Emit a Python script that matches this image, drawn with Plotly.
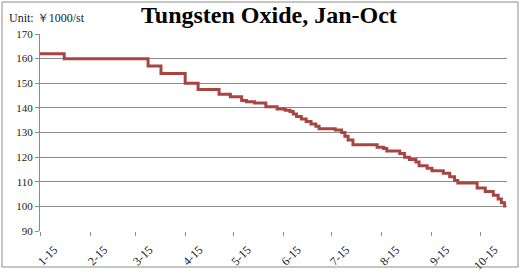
import plotly.graph_objects as go

# change points of the stepped price series (2015), value in 1000 CNY/st
dates = ["2015-01-15", "2015-01-30", "2015-03-23", "2015-03-31", "2015-04-15", "2015-04-23",
         "2015-05-06", "2015-05-13", "2015-05-20", "2015-05-23", "2015-05-28", "2015-06-04",
         "2015-06-11", "2015-06-16", "2015-06-19", "2015-06-21", "2015-06-23", "2015-06-26",
         "2015-06-29", "2015-07-02", "2015-07-05", "2015-07-07", "2015-07-17", "2015-07-21",
         "2015-07-23", "2015-07-25", "2015-07-28", "2015-08-12", "2015-08-16", "2015-08-18",
         "2015-08-26", "2015-08-29", "2015-09-01", "2015-09-05", "2015-09-07", "2015-09-12",
         "2015-09-15", "2015-09-22", "2015-09-26", "2015-09-29", "2015-10-01", "2015-10-13",
         "2015-10-18", "2015-10-23", "2015-10-26", "2015-10-28", "2015-10-30"]
prices = [162, 160, 157, 154, 150, 147.5,
          145.5, 144.5, 143, 142.5, 142, 140.5,
          139.5, 139, 138.5, 137.5, 136.5, 135.5,
          134.5, 133.5, 132.5, 131.5, 131, 130,
          128.5, 127, 125, 124, 123.5, 122.5,
          121.5, 120, 119, 118, 116.5, 115.5,
          114.5, 113.5, 112, 110.5, 109.5, 107.5,
          106, 104.5, 103, 101.5, 99.5]

tick_dates = ["2015-01-15", "2015-02-15", "2015-03-15", "2015-04-15", "2015-05-15",
              "2015-06-15", "2015-07-15", "2015-08-15", "2015-09-15", "2015-10-15"]
tick_labels = ["1-15", "2-15", "3-15", "4-15", "5-15", "6-15", "7-15", "8-15", "9-15", "10-15"]
y_ticks = [90, 100, 110, 120, 130, 140, 150, 160, 170]

title_text = "Tungsten Oxide, Jan-Oct"
unit_text = "Unit: ￥1000/st"

SERIF = "Liberation Serif, Times New Roman, serif"
GRID = "#8c8c8c"

fig = go.Figure()
fig.add_trace(go.Scatter(
    x=dates, y=prices, mode="lines", line=dict(color="#a84442", width=3, shape="hv"),
    hoverinfo="skip", showlegend=False))

W, H = 523, 276
L, R, T, B = 40, 16, 34, 45
pw, ph = W - L - R, H - T - B

def px_x(x):
    return (x - L) / pw

def px_y(y):
    return 1 - (y - T) / ph

fig.update_layout(
    width=W, height=H,
    margin=dict(l=L, r=R, t=T, b=B, autoexpand=False),
    paper_bgcolor="white", plot_bgcolor="white",
    font=dict(family=SERIF, color="#222222", size=11),
    xaxis=dict(
        type="date", range=["2015-01-15", "2015-10-31 12:00"],
        tickvals=tick_dates, ticktext=tick_labels, tickangle=-45,
        ticks="outside", ticklen=4, tickcolor=GRID, showgrid=False,
        showline=False, zeroline=False, ticklabelshift=14, ticklabelstandoff=2,
        automargin=False,
        tickfont=dict(family=SERIF, size=12, color="#222222"),
    ),
    yaxis=dict(
        range=[90, 170], tickvals=y_ticks, ticks="outside", ticklen=4,
        tickcolor=GRID, showgrid=True, gridcolor=GRID, gridwidth=1,
        showline=True, linecolor=GRID, linewidth=1, zeroline=False,
        automargin=False,
        tickfont=dict(family=SERIF, size=11, color="#222222"),
    ),
    shapes=[dict(type="rect", xref="paper", yref="paper",
                 x0=px_x(2), x1=px_x(518), y0=px_y(267), y1=px_y(2),
                 line=dict(color="#8c8c8c", width=1), fillcolor="rgba(0,0,0,0)")],
    annotations=[
        dict(text="<b>" + title_text + "</b>", xref="paper", yref="paper",
             x=px_x(269), y=px_y(30), xanchor="center", yanchor="bottom",
             showarrow=False, font=dict(family=SERIF, size=24, color="black")),
        dict(text=unit_text, xref="paper", yref="paper",
             x=px_x(7), y=px_y(27), xanchor="left", yanchor="bottom",
             showarrow=False, font=dict(family=SERIF, size=12, color="#222222")),
    ],
)

fig.write_html("out.html")
